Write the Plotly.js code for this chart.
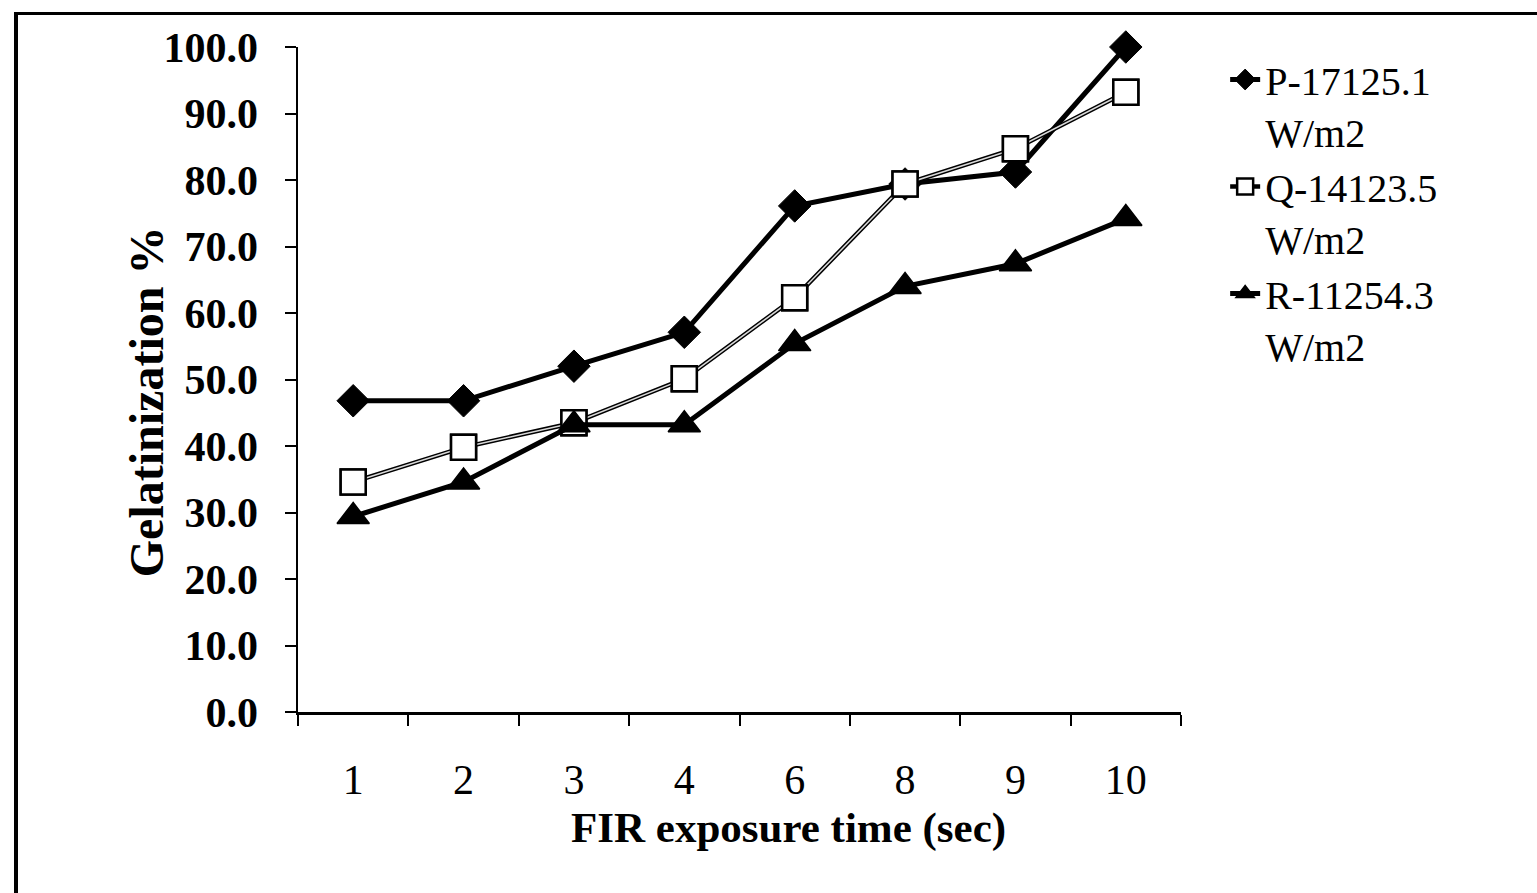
<!DOCTYPE html>
<html>
<head>
<meta charset="utf-8">
<script src="https://cdn.plot.ly/plotly-3.0.1.min.js"></script>
<style>
html,body{margin:0;padding:0;background:#fff;overflow:hidden;}
#chart{width:1537px;height:893px;}
#frame{position:absolute;left:14px;top:12px;width:1600px;height:1000px;border-top:3px solid #000;border-left:4px solid #000;pointer-events:none;}
</style>
</head>
<body>
<div id="chart"></div>
<div id="frame"></div>
<script>
const categories = ['1','2','3','4','6','8','9','10'];
const seriesP = [46.8, 46.8, 52.0, 57.1, 76.1, 79.4, 81.2, 100.0];
const seriesQ = [34.6, 39.8, 43.5, 50.1, 62.3, 79.4, 84.7, 93.2];
const seriesR = [29.4, 34.6, 43.2, 43.2, 55.4, 64.0, 67.4, 74.2];
const nameP = 'P-17125.1<br>W/m2';
const nameQ = 'Q-14123.5<br>W/m2';
const nameR = 'R-11254.3<br>W/m2';
const yTicks = [0,10,20,30,40,50,60,70,80,90,100];
const xTitle = 'FIR exposure time (sec)';
const yTitle = 'Gelatinization %';

const serif = '"Liberation Serif", "Times New Roman", serif';

const traces = [
  {x: categories, y: seriesP, name: nameP, type: 'scatter', mode: 'lines+markers', cliponaxis: false,
   line: {color: '#000', width: 5},
   marker: {symbol: 'diamond', size: 25, color: '#000', line: {color: '#000', width: 1}}},
  {x: categories, y: seriesQ, name: nameQ, type: 'scatter', mode: 'lines+markers', legendgroup: 'q', cliponaxis: false,
   line: {color: '#000', width: 4.5},
   marker: {symbol: 'square', size: 25, color: '#fff', line: {color: '#000', width: 2.5}}},
  {x: categories, y: seriesQ, showlegend: false, hoverinfo: 'skip', type: 'scatter', mode: 'lines', legendgroup: 'q', cliponaxis: false,
   line: {color: '#d9d9d9', width: 1.5}},
  {x: categories, y: seriesQ, showlegend: false, hoverinfo: 'skip', type: 'scatter', mode: 'markers', legendgroup: 'q', cliponaxis: false,
   marker: {symbol: 'square', size: 25, color: '#fff', line: {color: '#000', width: 2.5}}},
  {x: categories, y: seriesR, name: nameR, type: 'scatter', mode: 'lines+markers', cliponaxis: false,
   line: {color: '#000', width: 5},
   marker: {symbol: 'triangle-up', size: 28, color: '#000', line: {color: '#000', width: 1.5}}}
];

const layout = {
  width: 1537, height: 893,
  margin: {l: 298, r: 356, t: 47, b: 181},
  paper_bgcolor: '#fff', plot_bgcolor: '#fff',
  showlegend: true,
  font: {family: serif, color: '#000'},
  xaxis: {
    type: 'category', categoryorder: 'array', categoryarray: categories,
    range: [-0.5, 7.5], tickson: 'boundaries',
    ticks: 'outside', ticklen: 11, tickwidth: 2, tickcolor: '#000',
    showline: true, linecolor: '#000', linewidth: 2.5,
    showgrid: false, zeroline: false,
    tickfont: {family: serif, size: 42, color: '#000'},
    ticklabelstandoff: 29
  },
  yaxis: {
    range: [0, 100], tickvals: yTicks, tickformat: '.1f',
    ticks: 'outside', ticklen: 11, tickwidth: 2, tickcolor: '#000',
    showline: true, linecolor: '#000', linewidth: 2.5,
    showgrid: false, zeroline: false,
    tickfont: {family: serif, size: 42, color: '#000', weight: 'bold'},
    ticklabelstandoff: 18
  },
  legend: {
    x: 1.05, xanchor: 'left', y: 1.0, yanchor: 'top',
    font: {family: serif, size: 40, color: '#000'},
    valign: 'top', tracegroupgap: 0, itemwidth: 30,
    bgcolor: 'rgba(0,0,0,0)'
  },
  annotations: [
    {text: '<b>' + xTitle + '</b>', xref: 'paper', yref: 'paper', x: 0.556, y: -0.174,
     xanchor: 'center', yanchor: 'middle', showarrow: false,
     font: {family: serif, size: 43, color: '#000'}},
    {text: '<b>' + yTitle + '</b>', xref: 'paper', yref: 'paper', x: -0.172, y: 0.466,
     xanchor: 'center', yanchor: 'middle', showarrow: false, textangle: -90,
     font: {family: serif, size: 48, color: '#000'}}
  ]
};

Plotly.newPlot('chart', traces, layout, {displayModeBar: false, staticPlot: true});
</script>
</body>
</html>
